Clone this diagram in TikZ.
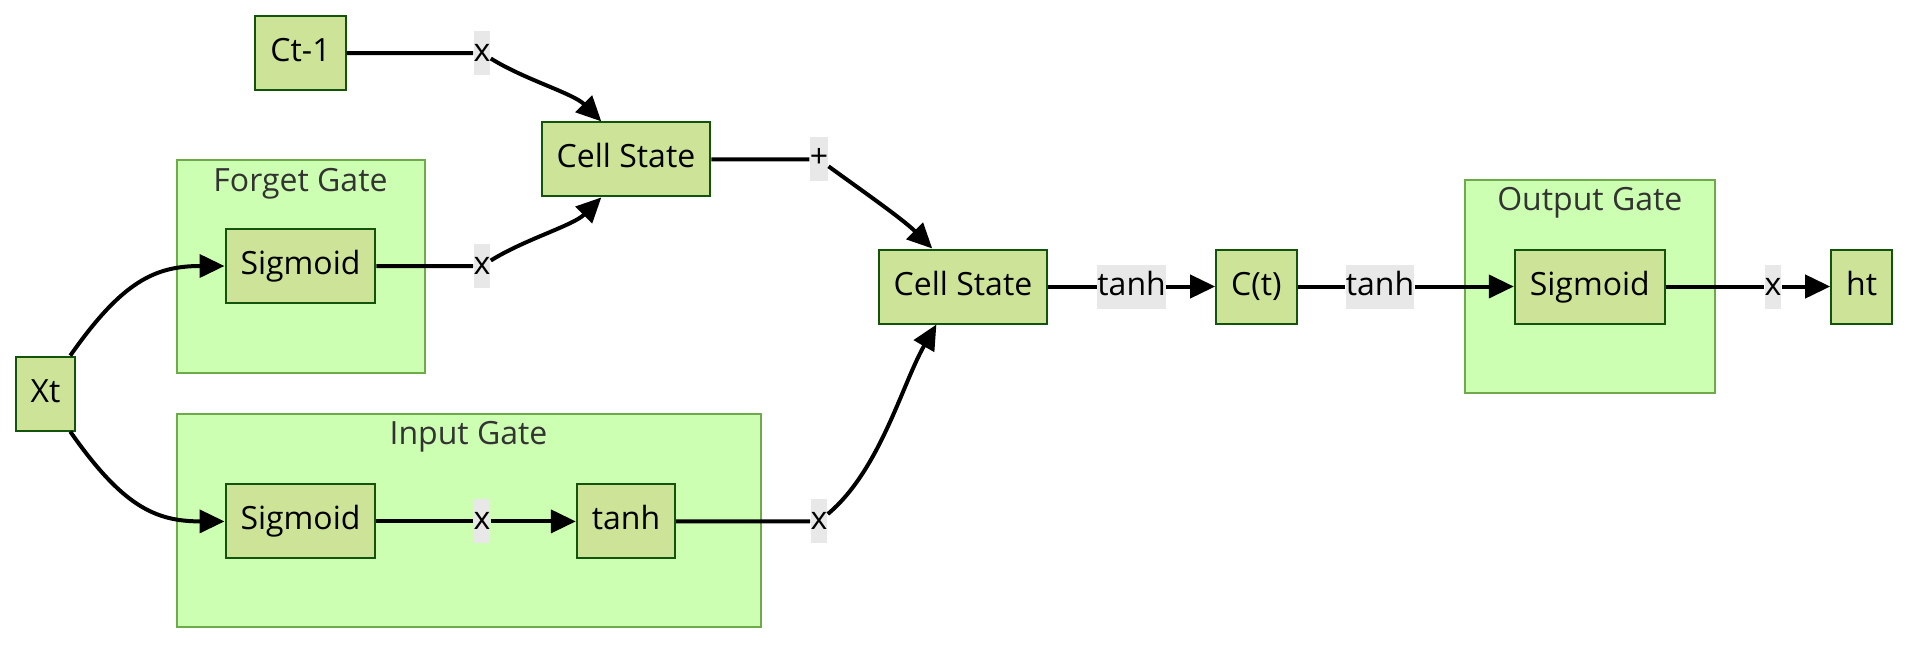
\documentclass[tikz,border=0pt]{standalone}
\usepackage{fontspec}
\setmainfont{Open Sans}
\usetikzlibrary{arrows.meta}
\definecolor{nodofondo}{HTML}{CDE498}
\definecolor{nodoborde}{HTML}{13540C}
\definecolor{grupofondo}{HTML}{CDFFB2}
\definecolor{grupoborde}{HTML}{6EAA49}
\definecolor{etiquetafondo}{HTML}{E8E8E8}
\definecolor{gristexto}{HTML}{333333}
\tikzstyle{arrow} = [
	line width=2pt,
	-{Triangle[length=12.5pt,width=11.5pt]},
	black,
]
\tikzstyle{bloque} = [
  rectangle,
  minimum height=37pt,
  inner xsep=7.5pt,
  text height=12pt,
  text depth=3.5pt,
  text centered,
  line width=1pt,
  draw=nodoborde,
  fill=nodofondo,
  font=\fontsize{16}{19}\selectfont
]
\tikzstyle{grupo} = [
  rectangle,
  minimum height=106.5pt,
  line width=1pt,
  draw=grupoborde,
  fill=grupofondo
]
\tikzstyle{titulo} = [
  text=gristexto,
  text centered,
  font=\fontsize{16}{19}\selectfont
]
\tikzstyle{etiqueta} = [
  rectangle,
  inner sep=0pt,
  minimum height=22pt,
  text height=12pt,
  text depth=3.5pt,
  fill=etiquetafondo,
  font=\fontsize{16}{19}\selectfont
]

\begin{document}
\begin{tikzpicture}[x=0.5pt, y=-0.5pt]
    \useasboundingbox (0,0) rectangle (1908,644);
    \node[grupo, minimum width=124pt] (FG) at (300.5,266) {};
    \node[grupo, minimum width=292pt] (IG) at (468.5,520) {};
    \node[grupo, minimum width=124.7pt] (OG) at (1589.8,286.5) {};
    \node[titulo] (TF) at (300.5,184) {Forget Gate};
    \node[titulo] (TI) at (468.5,437) {Input Gate};
    \node[titulo] (TO) at (1589.8,203) {Output Gate};

    \node[bloque] (A) at (45.6,393.6) {Xt};
    \node[bloque] (B) at (300.5,53) {Ct-1};
    \node[bloque] (C) at (626,159.4) {Cell State};
    \node[bloque] (D) at (300.5,266) {Sigmoid};
    \node[bloque] (E) at (300.5,521.4) {Sigmoid};
    \node[bloque] (F) at (626,521.4) {tanh};
    \node[bloque] (G) at (963,286.5) {Cell State};
    \node[bloque] (H) at (1256.4,286.5) {C(t)};
    \node[bloque] (I) at (1589.8,286.5) {Sigmoid};
    \node[bloque] (J) at (1861.7,286.5) {ht};

    \node[etiqueta] (L1) at (482,53) {x};
    \node[etiqueta] (L2) at (482,266) {x};
    \node[etiqueta] (L3) at (819,159.4) {+};
    \node[etiqueta] (L4) at (819,521.4) {x};
    \node[etiqueta] (L5) at (482,521.4) {x};
    \node[etiqueta] (L6) at (1131.6,286.5) {tanh};
    \node[etiqueta] (L7) at (1380,286.5) {tanh};
    \node[etiqueta] (L8) at (1773,286.5) {x};

    \draw[arrow] (B) -- (L1) to[out=-32, in=135, looseness=0.8] (C.123);
    \draw[arrow] (D) -- (L2) to[out=32, in=-135, looseness=0.8] (C.237);
    \draw[arrow] (C) -- (L3) to[out=-36, in=135, looseness=0.8] (G.129);
    \draw[arrow] (F) -- (L4) to[out=40, in=-120, looseness=0.8] (G.235);
    \draw[arrow] (A.57) to[out=55, in=180, out looseness=1.3, in looseness=1] (D);
    \draw[arrow] (A.-57) to[out=-55, in=180, out looseness=1.3, in looseness=1] (E);
    \draw[arrow] (E) -- (L5) -- (F);
    \draw[arrow] (G) -- (L6) -- (H);
    \draw[arrow] (H) -- (L7) -- (I);
    \draw[arrow] (I) -- (L8) -- (J);
\end{tikzpicture}
\end{document}
